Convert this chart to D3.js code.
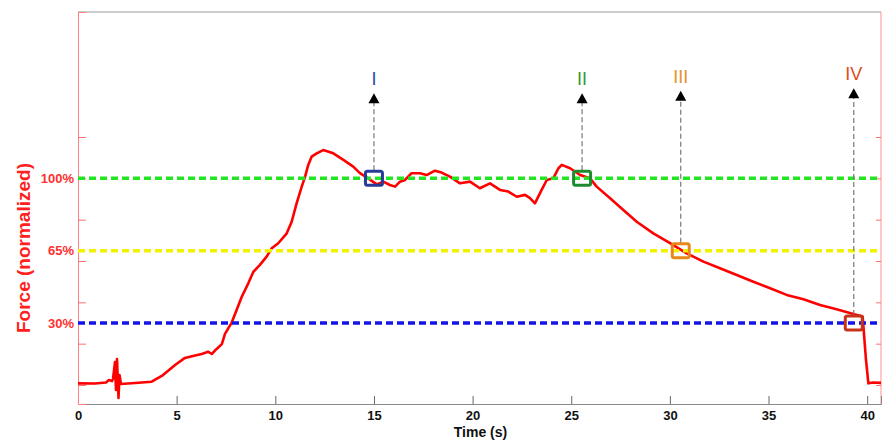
<!DOCTYPE html>
<html lang="en">
<head>
<meta charset="utf-8">
<script src="https://d3js.org/d3.v7.min.js"></script>
<style>
  body { margin: 0; background: #fff; }
  text { font-family: "Liberation Sans", Arial, sans-serif; }
</style>
</head>
<body>
<svg id="chart" width="882" height="440"></svg>
<script>
// force trace: time (s) and force (axis units)
var time = [0, 0.86, 1.42, 1.57, 1.72, 1.774, 1.875, 1.926, 1.977, 2.053, 2.103, 2.179, 2.89, 3.735,
  4.31, 4.92, 5.42, 5.83, 6.27, 6.49, 6.59, 6.78, 7.0, 7.29, 7.45, 7.79, 8.04, 8.30, 8.63, 8.89,
  9.22, 9.56, 9.82, 10.15, 10.58, 10.83, 11.08, 11.34, 11.51, 11.67, 11.84, 12.10, 12.43, 12.94,
  13.45, 13.95, 14.29, 14.71, 15.14, 15.47, 15.81, 16.07, 16.32, 16.57, 16.91, 17.33, 17.67, 18.09,
  18.43, 18.85, 19.36, 19.87, 20.37, 20.88, 21.39, 21.81, 22.24, 22.66, 22.91, 23.16, 23.50, 23.76,
  24.09, 24.35, 24.52, 24.94, 25.45, 25.95, 26.29, 26.97, 27.64, 28.32, 29.16, 30.01, 30.85, 31.70,
  32.54, 33.39, 34.23, 35.08, 35.92, 36.77, 37.61, 38.45, 39.30, 39.77, 39.94, 40.06, 40.31, 40.70];
var force = [0.8, 0.7, 1.2, 2.4, 1.9, 2.9, 11.1, -2.4, 12.6, -6.3, 4.8, 0.5, 1.0, 1.6,
  4.8, 9.7, 13.1, 14.0, 15.0, 15.7, 16.1, 15.0, 17.2, 19.8, 24.7, 30.2, 36.3, 42.7, 49.2, 54.8,
  58.1, 62.1, 66.2, 68.6, 73.4, 79.0, 87.9, 96.0, 100.8, 106.5, 110.5, 112.1, 113.7, 112.1,
  108.9, 105.7, 102.5, 100.0, 97.1, 98.4, 96.8, 96.0, 98.4, 99.2, 102.5, 102.5, 101.6, 103.7,
  102.8, 100.8, 97.6, 98.4, 95.2, 97.6, 94.4, 93.6, 91.1, 92.0, 90.4, 87.9, 94.4, 99.2,
  100.0, 104.9, 106.5, 104.9, 101.6, 100.0, 96.0, 90.4, 84.7, 79.0, 73.4, 68.6, 63.7, 59.7,
  56.5, 53.2, 50.0, 46.8, 43.6, 41.5, 38.7, 36.6, 34.4, 33.1, 12.1, 0.8, 1.2, 1.0];

// threshold levels
var levelNames = ["100%", "65%", "30%"];
var levelValues = [100, 65, 30];
var levelColors = ["#22e622", "#f2f200", "#1414e8"];

// marked instants
var markNames = ["I", "II", "III", "IV"];
var markTimes = [15.0, 25.55, 30.55, 39.32];
var markLevels = [100, 100, 65, 30];
var markTops = [141.2, 141.2, 142.4, 143.6];
var markBoxColors = ["#263c96", "#1f8a2e", "#e8881a", "#c8321a"];
var markTextColors = ["#2d4aa0", "#2e9a2e", "#e8902a", "#e04a20"];

var xTicks = [0, 5, 10, 15, 20, 25, 30, 35, 40];
var yTicks = [0, 20, 40, 60, 80, 100, 120];

var svg = d3.select("#chart");
var margin = {top: 12, right: 1, bottom: 36, left: 78};
var width = 882 - margin.left - margin.right;
var height = 440 - margin.top - margin.bottom;

var x = d3.scaleLinear().domain([0, 40.7]).range([0, width]);
var y = d3.scaleLinear().domain([-9.2, 180.5]).range([height, 0]);

var g = svg.append("g").attr("transform", "translate(" + margin.left + "," + margin.top + ")");

// frame
g.append("line").attr("x1", 0).attr("x2", width).attr("y1", 0).attr("y2", 0)
  .style("stroke", "#999").style("stroke-width", 1);
g.append("line").attr("x1", width).attr("x2", width).attr("y1", 0).attr("y2", height)
  .style("stroke", "#ff9090").style("stroke-width", 1);

// bottom axis
var xAxis = g.append("g").attr("transform", "translate(0," + height + ")")
  .call(d3.axisBottom(x).tickValues(xTicks).tickSize(-8).tickFormat(d3.format("d")));
xAxis.select(".domain").style("stroke", "#888");
xAxis.selectAll(".tick line").style("stroke", "#666");
xAxis.selectAll(".tick text").style("font-size", "13px").style("font-weight", "bold")
  .style("fill", "#111").attr("y", 16).attr("dy", 0);

// left axis, ticks only
var yAxis = g.append("g")
  .call(d3.axisLeft(y).tickValues(yTicks).tickSize(-8).tickFormat(""));
yAxis.select(".domain").style("stroke", "#ff8080");
yAxis.selectAll(".tick line").style("stroke", "#ff7070");

// right axis ticks
var yAxisR = g.append("g").attr("transform", "translate(" + width + ",0)")
  .call(d3.axisRight(y).tickValues(yTicks).tickSize(-5).tickFormat(""));
yAxisR.select(".domain").remove();
yAxisR.selectAll(".tick line").style("stroke", "#ff7070");

// force trace
var pts = time.map(function (t, i) { return [t, force[i]]; });
var line = d3.line().x(function (d) { return x(d[0]); }).y(function (d) { return y(d[1]); });
g.append("path").datum(pts).attr("d", line)
  .style("fill", "none").style("stroke", "#ff0000").style("stroke-width", 2.6)
  .style("stroke-linejoin", "round");

// threshold lines
levelValues.forEach(function (v, i) {
  g.append("line").attr("x1", 0).attr("x2", width).attr("y1", y(v)).attr("y2", y(v))
    .style("stroke", levelColors[i]).style("stroke-width", 3.5).style("stroke-dasharray", "7,4");
  g.append("text").attr("x", -4).attr("y", y(v)).attr("dy", "0.35em")
    .attr("text-anchor", "end").style("font-size", "13px").style("font-weight", "bold")
    .style("fill", "#ff3030").text(levelNames[i]);
});

// markers with arrows
markNames.forEach(function (name, i) {
  var cx = x(markTimes[i]);
  var cy = y(markLevels[i]);
  var top = y(markTops[i]);
  g.append("line").attr("x1", cx).attr("x2", cx).attr("y1", cy - 8).attr("y2", top + 9)
    .style("stroke", "#777").style("stroke-width", 1.2).style("stroke-dasharray", "5,3");
  g.append("path")
    .attr("d", "M" + cx + "," + top + "L" + (cx - 5.5) + "," + (top + 10) + "L" + (cx + 5.5) + "," + (top + 10) + "Z")
    .style("fill", "#000");
  g.append("rect").attr("x", cx - 8.5).attr("y", cy - 7).attr("width", 17).attr("height", 14)
    .attr("rx", 2).style("fill", "none").style("stroke", markBoxColors[i]).style("stroke-width", 3);
  g.append("text").attr("x", cx).attr("y", top - 8).attr("text-anchor", "middle")
    .style("font-size", "18px").style("fill", markTextColors[i]).text(name);
});

// axis titles
svg.append("text").attr("x", margin.left + x(20.4)).attr("y", 437).attr("text-anchor", "middle")
  .style("font-size", "14px").style("font-weight", "bold").style("fill", "#111").text("Time (s)");
svg.append("text").attr("transform", "translate(30,248) rotate(-90)").attr("text-anchor", "middle")
  .style("font-size", "19px").style("font-weight", "bold").style("fill", "#ff2020")
  .text("Force (normalized)");
</script>
</body>
</html>
